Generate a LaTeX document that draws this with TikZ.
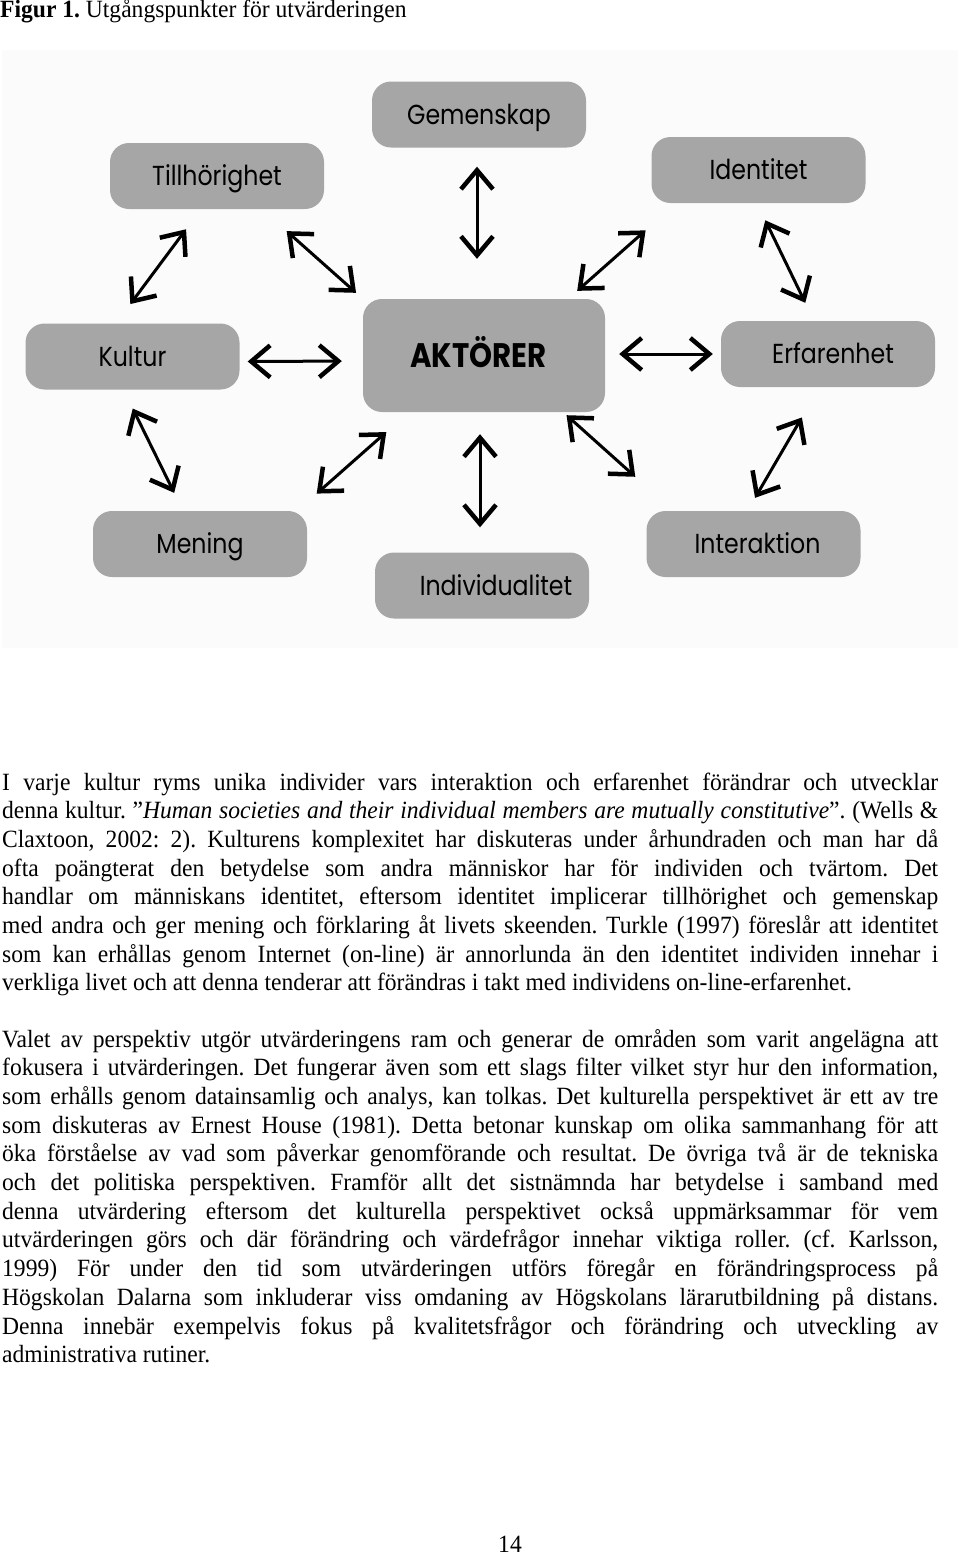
\documentclass[tikz,border=0pt]{standalone}
\usepackage{fontspec}
\setmainfont{Liberation Serif}[FakeStretch=0.95]
\newfontfamily\rutfont{Poppins}[FakeStretch=0.86]
\usetikzlibrary{arrows.meta}
\definecolor{rutgra}{HTML}{A6A6A6}
\definecolor{bakgrund}{HTML}{FBFBFB}
\newcommand\rad[1]{\hbox to 936pt{\spaceskip=0pt\xspaceskip=0pt\relax #1}}
\newcommand\slutrad[1]{\hbox{#1}}
\frenchspacing

\begin{document}
\begin{tikzpicture}[x=1pt,y=-1pt,>={Straight Barb[length=19pt,width=32pt,line width=4.5pt]},
  ruta/.style={fill=rutgra,rounded corners=19pt,minimum width=214pt,minimum height=66pt,inner sep=0pt,
    text height=19pt,text depth=0pt,font=\rutfont\fontsize{27.5}{32}\selectfont},
  pil/.style={<->,line width=3pt},
  brodtext/.style={inner sep=0pt,font=\fontsize{24.8}{28.7}\selectfont},
  stycke/.style={brodtext,anchor=base west,text width=936pt,align=justify}]
  \useasboundingbox (0,0) rectangle (960,1556);
  \fill[white] (0,0) rectangle (960,1556);
  \fill[bakgrund] (2,50) rectangle (958,648);
  \node[brodtext,anchor=base west] (rubrik) at (0,17) {\textbf{Figur 1.} Utgångspunkter för utvärderingen};
  \node[ruta] (gem) at (479,114.5) {Gemenskap};
  \node[ruta] (til) at (217,176) {Tillhörighet};
  \node[ruta] (ide) at (758.5,170) {Identitet};
  \node[ruta] (kul) at (132.5,356.5) {Kultur};
  \node[ruta,minimum width=242pt,minimum height=113pt,text height=23pt,
    font=\rutfont\bfseries\fontsize{34}{38}\selectfont] (akt) at (484,355.5) {AKTÖRER\hspace*{11pt}};
  \node[ruta] (erf) at (828,354) {\hspace*{10pt}Erfarenhet};
  \node[ruta] (men) at (200,544) {Mening};
  \node[ruta] (ind) at (482,585.5) {\hspace*{28pt}Individualitet};
  \node[ruta] (int) at (753.5,544) {\hspace*{8pt}Interaktion};
  \draw[pil,shorten <=19pt,shorten >=40pt] ([xshift=-2pt]gem.south) -- ([xshift=-7pt]akt.north);
  \draw[pil,shorten <=25pt,shorten >=24pt] ([xshift=-16pt]til.south) -- ([xshift=-16.5pt]kul.north);
  \draw[pil,shorten <=33pt,shorten >=9pt] ([xshift=45pt]til.south) -- (akt.north west);
  \draw[pil,shorten <=12pt,shorten >=41pt] ([xshift=-37pt]akt.north east) -- ([xshift=25pt]ide.south west);
  \draw[pil,shorten <=19pt,shorten >=20pt] ([xshift=-1.5pt]ide.south) -- ([xshift=-14pt]erf.north);
  \draw[pil,shorten <=8pt,shorten >=21pt] ([yshift=-5pt]kul.east) -- ([yshift=-5.5pt]akt.west);
  \draw[pil,shorten <=14pt,shorten >=8pt] ([yshift=1.5pt]akt.east) -- (erf.west);
  \draw[pil,shorten <=21pt,shorten >=20pt] ([xshift=-9pt]kul.south) -- ([xshift=-17pt]men.north);
  \draw[pil,shorten <=26pt,shorten >=30pt] ([xshift=-10pt]men.north east) -- ([xshift=46pt]akt.south west);
  \draw[pil,shorten <=22pt,shorten >=25pt] ([xshift=-4pt]akt.south) -- ([xshift=-2pt]ind.north);
  \draw[pil,shorten <=4.5pt,shorten >=51pt] ([xshift=-42pt]akt.south east) -- ([xshift=27pt]int.north west);
  \draw[pil,shorten <=15pt,shorten >=35pt] ([xshift=-6pt]int.north) -- ([xshift=-8.5pt]erf.south);
  \node[stycke] (stycke1) at (2,790) {%
    \rad{I varje kultur ryms unika individer vars interaktion och erfarenhet förändrar och utvecklar}
    \rad{denna kultur. ”\textit{Human societies and their individual members are mutually constitutive}”. (Wells \&}
    \rad{Claxtoon, 2002: 2). Kulturens komplexitet har diskuteras under århundraden och man har då}
    \rad{ofta poängterat den betydelse som andra människor har för individen och tvärtom. Det}
    \rad{handlar om människans identitet, eftersom identitet implicerar tillhörighet och gemenskap}
    \rad{med andra och ger mening och förklaring åt livets skeenden. Turkle (1997) föreslår att identitet}
    \rad{som kan erhållas genom Internet (on-line) är annorlunda än den identitet individen innehar i}
    \slutrad{verkliga livet och att denna tenderar att förändras i takt med individens on-line-erfarenhet.}};
  \node[stycke] (stycke2) at (2,1047) {%
    \rad{Valet av perspektiv utgör utvärderingens ram och generar de områden som varit angelägna att}
    \rad{fokusera i utvärderingen. Det fungerar även som ett slags filter vilket styr hur den information,}
    \rad{som erhålls genom datainsamlig och analys, kan tolkas. Det kulturella perspektivet är ett av tre}
    \rad{som diskuteras av Ernest House (1981). Detta betonar kunskap om olika sammanhang för att}
    \rad{öka förståelse av vad som påverkar genomförande och resultat. De övriga två är de tekniska}
    \rad{och det politiska perspektiven. Framför allt det sistnämnda har betydelse i samband med}
    \rad{denna utvärdering eftersom det kulturella perspektivet också uppmärksammar för vem}
    \rad{utvärderingen görs och där förändring och värdefrågor innehar viktiga roller. (cf. Karlsson,}
    \rad{1999) För under den tid som utvärderingen utförs föregår en förändringsprocess på}
    \rad{Högskolan Dalarna som inkluderar viss omdaning av Högskolans lärarutbildning på distans.}
    \rad{Denna innebär exempelvis fokus på kvalitetsfrågor och förändring och utveckling av}
    \slutrad{administrativa rutiner.}};
  \node[brodtext,anchor=base] (sidnr) at (510,1552) {14};
\end{tikzpicture}
\end{document}
